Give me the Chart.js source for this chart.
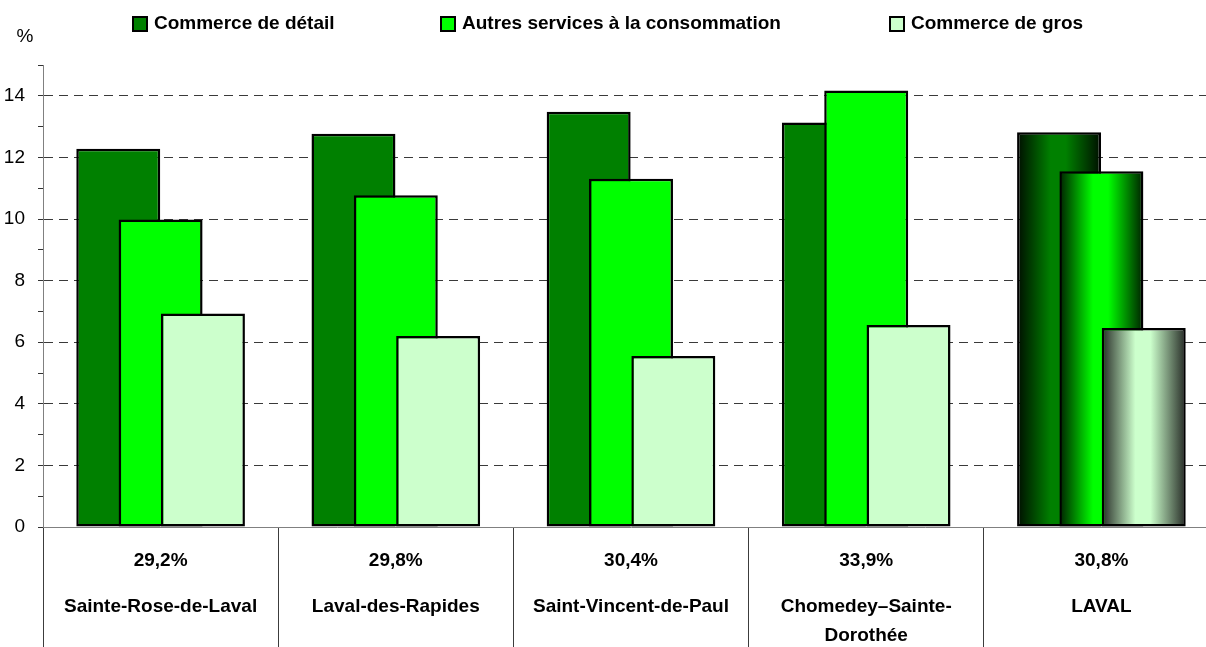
<!DOCTYPE html>
<html lang="fr">
<head>
<meta charset="utf-8">
<title>Part de l'emploi - commerce et services</title>
<script src="https://cdn.jsdelivr.net/npm/chart.js@4.4.1/dist/chart.umd.min.js"></script>
<style>
    html, body { margin: 0; padding: 0; background: #fff; overflow: hidden; }
    #chart { position: absolute; left: 0; top: 0; }
</style>
</head>
<body>
<canvas id="chart" width="1230" height="677"></canvas>
<script>
// --------------------- Data -------------------
const regions = ['Sainte-Rose-de-Laval', 'Laval-des-Rapides', 'Saint-Vincent-de-Paul', ['Chomedey\u2013Sainte-', 'Dorothée'], 'LAVAL'];
const shares = ['29,2%', '29,8%', '30,4%', '33,9%', '30,8%'];
const seriesNames = ['Commerce de détail', 'Autres services à la consommation', 'Commerce de gros'];
const retail = [12.28, 12.77, 13.48, 13.13, 12.82];
const otherServices = [9.98, 10.77, 11.31, 14.17, 11.55];
const wholesale = [6.93, 6.20, 5.55, 6.56, 6.46];
const yMax = 15;

// --------------------- Look -------------------
const FONT = "'Liberation Sans', Arial, sans-serif";
const BAR_PCT = 0.357;    // bar width as share of a category
const SHIFT = 0.18;       // bar offset from category centre, in categories
const colors = ['#008000', '#00ff00', '#ccffcc'];
const edgeColors = ['#000e00', '#002000', '#262b26'];
const legendX = [133, 441, 890];

Chart.defaults.font.family = FONT;
Chart.defaults.color = '#000';

// LAVAL bars get a shaded cylinder look
function barFill(k) {
    return function (ctx) {
        const chart = ctx.chart;
        if (ctx.type !== 'data' || ctx.dataIndex !== regions.length - 1 || !chart.chartArea) {
            return colors[k];
        }
        const scale = chart.scales[ctx.dataset.xAxisID];
        const center = scale.getPixelForValue(ctx.dataIndex);
        const half = scale.width / (scale.max - scale.min) * BAR_PCT / 2;
        const g = chart.ctx.createLinearGradient(center - half, 0, center + half, 0);
        g.addColorStop(0, edgeColors[k]);
        g.addColorStop(0.4, colors[k]);
        g.addColorStop(0.58, colors[k]);
        g.addColorStop(1, edgeColors[k]);
        return g;
    };
}

// one hidden linear axis per series, slid sideways so the bars overlap
function shiftedAxis(offset) {
    return {
        type: 'linear',
        display: false,
        offset: false,
        grid: { offset: false },
        min: -0.5 - offset,
        max: regions.length - 0.5 - offset,
        afterBuildTicks: s => { s.ticks = regions.map((r, i) => ({ value: i })); }
    };
}

const toPoints = arr => arr.map((v, i) => ({ x: i, y: v }));

// --------------------- Plugins -------------------
const extraText = {
    id: 'extraText',
    afterDraw(chart) {
        const ctx = chart.ctx;
        ctx.save();

        // legend row
        ctx.font = 'bold 19px ' + FONT;
        ctx.textBaseline = 'middle';
        ctx.textAlign = 'left';
        seriesNames.forEach((name, k) => {
            const x = legendX[k];
            ctx.fillStyle = colors[k];
            ctx.fillRect(x, 17, 14, 14);
            ctx.lineWidth = 2;
            ctx.strokeStyle = '#000';
            ctx.strokeRect(x, 17, 14, 14);
            ctx.fillStyle = '#000';
            ctx.fillText(name, x + 21, 24);
        });

        // unit
        ctx.font = '19px ' + FONT;
        ctx.textAlign = 'center';
        ctx.fillText('%', 25, 37);

        // shares above the region names
        const xs = chart.scales.x;
        ctx.font = 'bold 19px ' + FONT;
        shares.forEach((s, i) => {
            ctx.fillText(s, xs.getPixelForValue(i), 561);
        });
        ctx.restore();
    }
};

// --------------------- Chart -------------------
const chart = new Chart(document.getElementById('chart'), {
    type: 'bar',
    data: {
        labels: regions,
        datasets: [
            { label: seriesNames[0], data: toPoints(retail), xAxisID: 'x0', order: 3, backgroundColor: barFill(0) },
            { label: seriesNames[1], data: toPoints(otherServices), xAxisID: 'x1', order: 2, backgroundColor: barFill(1) },
            { label: seriesNames[2], data: toPoints(wholesale), xAxisID: 'x2', order: 1, backgroundColor: barFill(2) }
        ]
    },
    options: {
        responsive: false,
        animation: false,
        devicePixelRatio: 1,
        layout: { padding: { top: 65, left: 0, right: 11, bottom: 0 } },
        datasets: {
            bar: {
                grouped: false,
                borderColor: '#000',
                borderWidth: 2.5,
                borderSkipped: false,
                categoryPercentage: 1,
                barPercentage: BAR_PCT
            }
        },
        plugins: {
            legend: { display: false },
            tooltip: { enabled: false }
        },
        scales: {
            x: {
                type: 'category',
                position: 'bottom',
                offset: true,
                grid: {
                    offset: true,
                    drawOnChartArea: false,
                    drawTicks: true,
                    tickLength: 130,
                    tickColor: '#3c3c3c'
                },
                border: { display: true, color: '#808080', width: 1 },
                ticks: {
                    autoSkip: false,
                    maxRotation: 0,
                    padding: -64.5,
                    color: '#000',
                    font: { size: 19, weight: 'bold', lineHeight: '29px' }
                },
                afterFit: s => { s.height = 150; }
            },
            x0: shiftedAxis(-SHIFT),
            x1: shiftedAxis(0),
            x2: shiftedAxis(SHIFT),
            y: {
                min: 0,
                max: yMax,
                position: 'left',
                ticks: {
                    stepSize: 1,
                    autoSkip: false,
                    padding: 13,
                    color: '#000',
                    font: { size: 19 },
                    callback: v => (v % 2 === 0 && v < yMax) ? v : ''
                },
                grid: {
                    drawTicks: true,
                    tickLength: 5,
                    tickColor: '#333',
                    color: c => (c.tick && c.tick.value > 0 && c.tick.value < yMax && c.tick.value % 2 === 0) ? '#3a3a3a' : 'rgba(0,0,0,0)'
                },
                border: { display: true, color: '#808080', width: 1, dash: [9, 6] },
                afterFit: s => { s.width = 43; }
            }
        }
    },
    plugins: [extraText]
});
</script>
</body>
</html>
